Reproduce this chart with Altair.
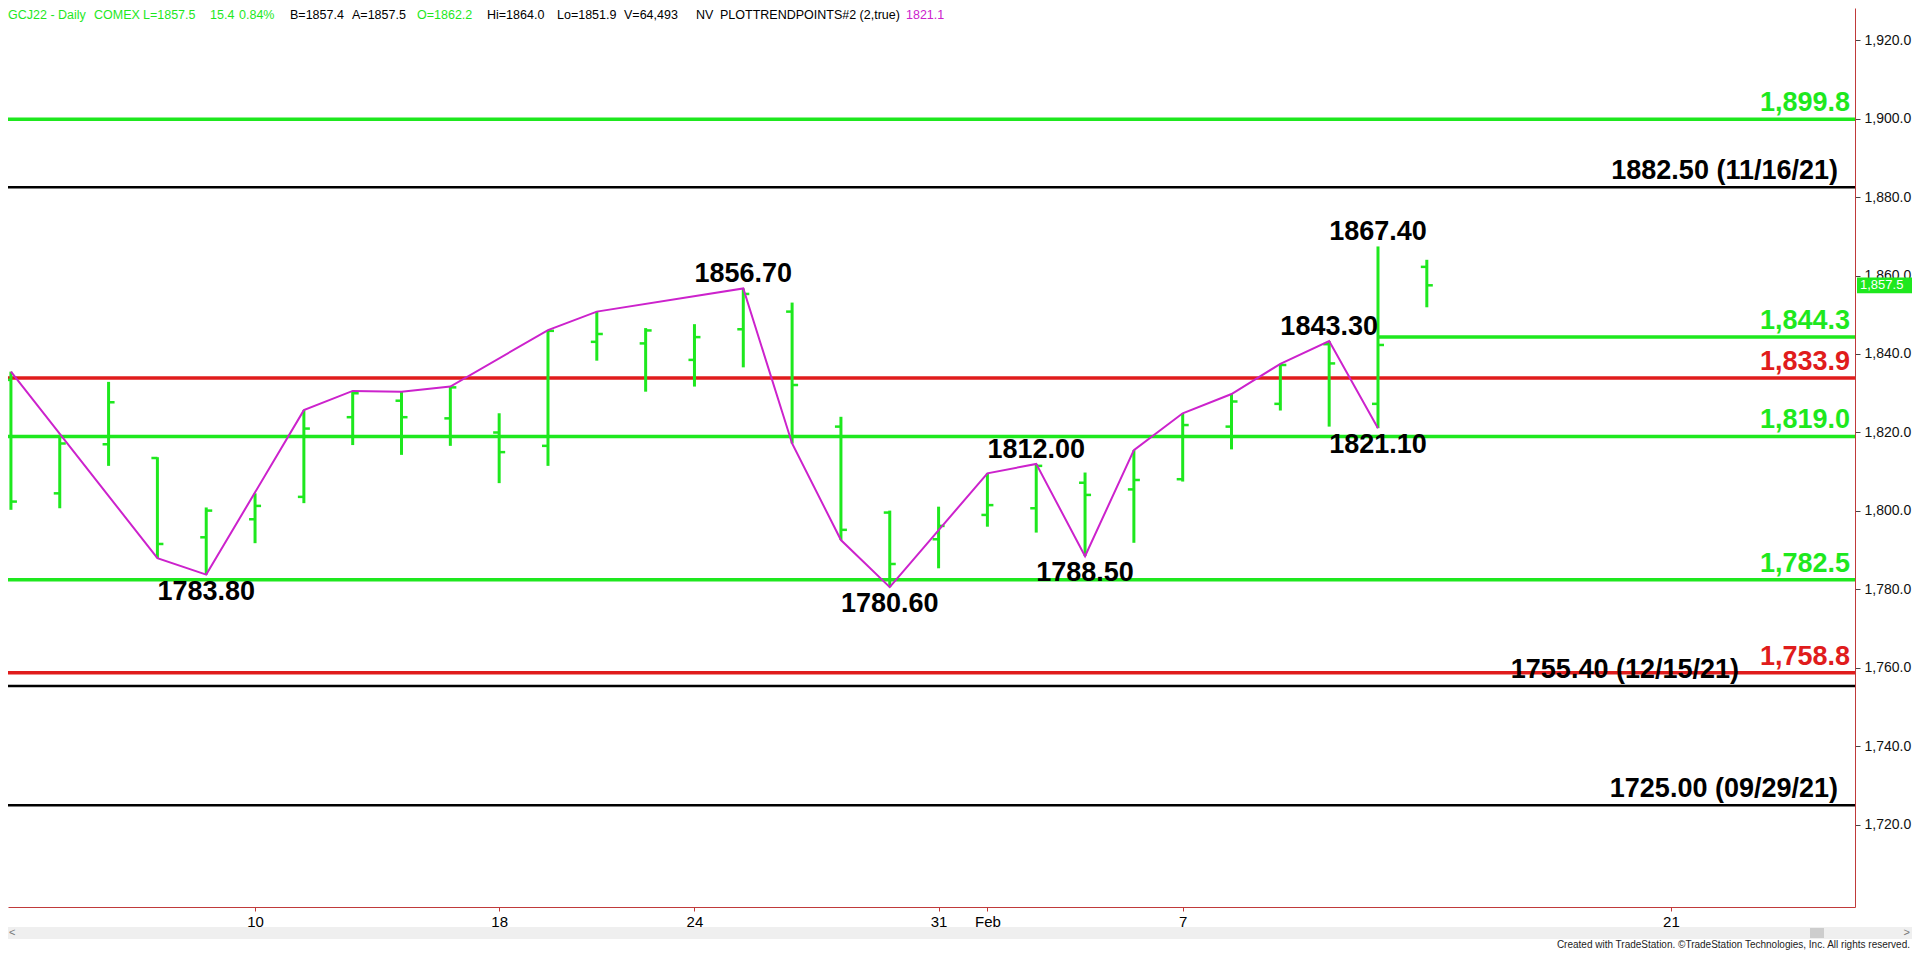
import altair as alt
import pandas as pd

# ---------------- data ----------------
dates = ["Jan 3", "Jan 4", "Jan 5", "Jan 6", "Jan 7", "Jan 10", "Jan 11", "Jan 12", "Jan 13", "Jan 14",
         "Jan 18", "Jan 19", "Jan 20", "Jan 21", "Jan 24", "Jan 25", "Jan 26", "Jan 27", "Jan 28", "Jan 31",
         "Feb 1", "Feb 2", "Feb 3", "Feb 4", "Feb 7", "Feb 8", "Feb 9", "Feb 10", "Feb 11", "Feb 14"]
opens = [1833.4, 1804.5, 1817.0, 1813.5, 1793.3, 1797.9, 1803.6, 1823.9, 1828.1, 1823.6,
         1820.0, 1816.6, 1843.1, 1842.7, 1838.5, 1846.3, 1850.8, 1821.5, 1799.6, 1792.8,
         1799.0, 1800.7, 1807.2, 1805.5, 1808.1, 1821.5, 1827.3, 1842.5, 1827.3, 1862.2]
highs = [1835.5, 1819.4, 1832.9, 1813.7, 1800.9, 1804.5, 1825.7, 1830.6, 1830.4, 1831.7,
         1824.9, 1846.1, 1850.8, 1846.6, 1847.6, 1856.7, 1853.1, 1824.0, 1800.1, 1801.1,
         1809.6, 1812.0, 1809.8, 1815.5, 1824.9, 1829.8, 1837.5, 1843.3, 1867.4, 1864.0]
lows = [1800.3, 1800.7, 1811.5, 1788.0, 1783.8, 1791.8, 1802.0, 1816.8, 1814.3, 1816.6,
        1807.1, 1811.5, 1838.3, 1830.4, 1831.7, 1836.6, 1817.2, 1792.6, 1780.6, 1785.4,
        1796.0, 1794.5, 1788.5, 1791.9, 1807.5, 1815.7, 1825.6, 1821.5, 1821.1, 1851.9]
closes = [1802.4, 1817.2, 1827.7, 1791.6, 1800.1, 1801.3, 1821.0, 1830.0, 1823.9, 1831.5,
          1815.0, 1845.9, 1845.1, 1846.0, 1844.3, 1855.3, 1832.1, 1795.2, 1786.5, 1796.2,
          1801.5, 1811.5, 1804.1, 1807.9, 1821.9, 1827.9, 1837.2, 1837.6, 1842.3, 1857.5]

trend_dates = ["Jan 3", "Jan 6", "Jan 7", "Jan 11", "Jan 12", "Jan 13", "Jan 14", "Jan 19", "Jan 20",
               "Jan 25", "Jan 26", "Jan 27", "Jan 28", "Feb 1", "Feb 2", "Feb 3", "Feb 4", "Feb 7",
               "Feb 8", "Feb 9", "Feb 10", "Feb 11"]
trend_values = [1835.5, 1788.0, 1783.8, 1825.7, 1830.6, 1830.4, 1831.7, 1846.1, 1850.8,
                1856.7, 1817.2, 1792.6, 1780.6, 1809.6, 1812.0, 1788.5, 1815.5, 1824.9,
                1829.8, 1837.5, 1843.3, 1821.1]

pivot_dates = ["Jan 7", "Jan 25", "Jan 28", "Feb 2", "Feb 3", "Feb 10", "Feb 11", "Feb 11"]
pivot_values = [1783.80, 1856.70, 1780.60, 1812.00, 1788.50, 1843.30, 1867.40, 1821.10]
pivot_kinds = ["low", "high", "low", "high", "low", "high", "high", "low"]

level_values = [1899.8, 1882.50, 1844.3, 1833.9, 1819.0, 1782.5, 1758.8, 1755.40, 1725.00]
level_labels = ["1,899.8", "1882.50 (11/16/21)", "1,844.3", "1,833.9", "1,819.0", "1,782.5",
                "1,758.8", "1755.40 (12/15/21)", "1725.00 (09/29/21)"]
level_kinds = ["green", "black", "green", "red", "green", "green", "red", "black", "black"]
level_starts = ["", "", "Feb 11", "", "", "", "", "", ""]

y_ticks = [1720, 1740, 1760, 1780, 1800, 1820, 1840, 1860, 1880, 1900, 1920]
x_tick_days = [5, 10, 14, 19, 20, 24, 34]          # trading-day index
x_tick_labels = ["10", "18", "24", "31", "Feb", "7", "21"]

header_tokens = ["GCJ22 - Daily", "COMEX", "L=1857.5", "15.4", "0.84%", "B=1857.4", "A=1857.5",
                 "O=1862.2", "Hi=1864.0", "Lo=1851.9", "V=64,493", "NV",
                 "PLOTTRENDPOINTS#2 (2,true)", "1821.1"]
header_kinds = ["green", "green", "green", "green", "green", "black", "black",
                "green", "black", "black", "black", "black", "black", "magenta"]
last_price = closes[-1]

# ---------------- style ----------------
GREEN = "#1ee81e"
RED = "#e01c1c"
BLACK = "#000000"
MAGENTA = "#cc22cc"
AXRED = "#c03a3a"
COLORS = {"green": GREEN, "red": RED, "black": BLACK, "magenta": MAGENTA}
W, H = 1847, 899
BOLD = "Liberation Sans"
NARROW = "Liberation Sans Narrow, Arial Narrow, Liberation Sans"
header_x = [0, 86, 135, 202, 231, 282, 344, 409, 479, 549, 616, 688, 712, 898]

idx = {d: k for k, d in enumerate(dates)}

bars = pd.DataFrame({"date": dates, "i": list(range(len(dates))), "open": opens,
                     "high": highs, "low": lows, "close": closes})
trend = pd.DataFrame({"i": [idx[d] for d in trend_dates], "value": trend_values})
pivots = pd.DataFrame({"i": [idx[d] for d in pivot_dates], "value": pivot_values,
                       "kind": pivot_kinds, "label": [f"{v:.2f}" for v in pivot_values]})
levels = pd.DataFrame({"value": level_values, "label": level_labels, "kind": level_kinds,
                       "color": [COLORS[k] for k in level_kinds],
                       "start": [idx[s] if s else -1 for s in level_starts]})
header = pd.DataFrame({"t": header_tokens, "color": [COLORS[k] for k in header_kinds], "px": header_x})

x_scale = alt.Scale(domain=[-0.06, 37.77], nice=False, zero=False)
y_scale = alt.Scale(domain=[1699.108, 1928.153], nice=False, zero=False)

label_expr = "".join(f"datum.value == {p} ? '{l}' : " for p, l in zip(x_tick_days, x_tick_labels)) + "''"
x_axis = alt.Axis(values=x_tick_days, labelExpr=label_expr, title=None, grid=False,
                  domainColor=AXRED, tickColor=AXRED, tickSize=4, labelFont=NARROW,
                  labelFontSize=15, labelColor="#000", labelPadding=3, labelOverlap=False,
                  labelFlush=False)
y_axis = alt.Axis(orient="right", values=y_ticks, format=",.1f", title=None, grid=False,
                  domainColor=AXRED, tickColor="#444", tickSize=5, labelFont="Liberation Sans",
                  labelFontSize=14, labelPadding=4, labelColor="#111", labelOverlap=False,
                  labelFlush=False)


def X(f):
    return alt.X(f, scale=x_scale, axis=x_axis)


def Y(f):
    return alt.Y(f, scale=y_scale, axis=y_axis)


layers = []

# level lines
level_base = alt.Chart(levels)
layers.append(level_base.transform_filter(alt.datum.kind != "black").mark_rule(strokeWidth=3.5, clip=True).encode(
    x=X("start:Q"), x2=alt.value(W), y=Y("value:Q"), color=alt.Color("color:N", scale=None)))
layers.append(level_base.transform_filter(alt.datum.kind == "black").mark_rule(strokeWidth=2.5, clip=True).encode(
    x=X("start:Q"), x2=alt.value(W), y=Y("value:Q"), color=alt.Color("color:N", scale=None)))

# level labels
lab_style = dict(font=BOLD, fontWeight="bold", fontSize=27, align="right", baseline="alphabetic", dy=-8)
layers.append(level_base.transform_filter(alt.datum.kind != "black").mark_text(**lab_style).encode(
    x=alt.value(W - 5), y=Y("value:Q"), text="label:N", color=alt.Color("color:N", scale=None)))
layers.append(level_base.transform_filter((alt.datum.kind == "black") & (alt.datum.value != 1755.4)).mark_text(**lab_style).encode(
    x=alt.value(W - 17), y=Y("value:Q"), text="label:N", color=alt.Color("color:N", scale=None)))
layers.append(level_base.transform_filter(alt.datum.value == 1755.4).mark_text(**lab_style).encode(
    x=alt.value(W - 116), y=Y("value:Q"), text="label:N", color=alt.Color("color:N", scale=None)))

# OHLC bars
bar_base = alt.Chart(bars)
layers.append(bar_base.mark_rule(color=GREEN, strokeWidth=3, clip=True).encode(
    x=X("i:Q"), y=Y("low:Q"), y2="high:Q"))
layers.append(bar_base.mark_rule(color=GREEN, strokeWidth=2.5, x2Offset=-6, clip=True).encode(
    x=X("i:Q"), x2="i:Q", y=Y("open:Q")))
layers.append(bar_base.mark_rule(color=GREEN, strokeWidth=2.5, x2Offset=6, clip=True).encode(
    x=X("i:Q"), x2="i:Q", y=Y("close:Q")))

# trend line
layers.append(alt.Chart(trend).mark_line(color=MAGENTA, strokeWidth=2, clip=True).encode(
    x=X("i:Q"), y=Y("value:Q")))

# pivot labels
piv_base = alt.Chart(pivots)
layers.append(piv_base.transform_filter(alt.datum.kind == "high").mark_text(
    font=BOLD, fontWeight="bold", fontSize=27, color=BLACK, baseline="alphabetic", dy=-6).encode(
    x=X("i:Q"), y=Y("value:Q"), text="label:N"))
layers.append(piv_base.transform_filter(alt.datum.kind == "low").mark_text(
    font=BOLD, fontWeight="bold", fontSize=27, color=BLACK, baseline="top", dy=4).encode(
    x=X("i:Q"), y=Y("value:Q"), text="label:N"))

# current price box on the axis
price = alt.Chart(pd.DataFrame({"v": [last_price]})).transform_calculate(
    lo="datum.v - 2.0", hi="datum.v + 2.0")
layers.append(price.mark_rect(color=GREEN).encode(
    x=alt.value(W + 2), x2=alt.value(W + 57), y=Y("lo:Q"), y2="hi:Q"))
layers.append(price.mark_text(color="white", fontSize=13, font="Liberation Sans", align="left", baseline="middle").encode(
    x=alt.value(W + 5), y=Y("v:Q"), text=alt.Text("v:Q", format=",.1f")))

# header line (one text per token)
layers.append(alt.Chart(header).mark_text(
    font="Liberation Sans", fontSize=12.5, align="left", baseline="top").encode(
    x=alt.X("px:Q", scale=None, axis=None), y=alt.value(1), text="t:N",
    color=alt.Color("color:N", scale=None)))

# scrollbar and credit line
deco = alt.Chart(pd.DataFrame({"t": ["Created with TradeStation. ©TradeStation Technologies, Inc. All rights reserved."]}))
layers.append(deco.mark_rect(color="#efefef").encode(
    x=alt.value(-8), x2=alt.value(W + 57), y=alt.value(919), y2=alt.value(931)))
layers.append(deco.mark_rect(color="#cdcdcd").encode(
    x=alt.value(1802), x2=alt.value(1816), y=alt.value(920), y2=alt.value(930)))
layers.append(deco.mark_text(color="#777", fontSize=11, align="left", baseline="middle").encode(
    x=alt.value(1), y=alt.value(925), text=alt.value("<")))
layers.append(deco.mark_text(color="#777", fontSize=11, align="right", baseline="middle").encode(
    x=alt.value(W + 55), y=alt.value(925), text=alt.value(">")))
layers.append(deco.mark_text(color="#222", fontSize=10, font=NARROW, align="right", baseline="alphabetic").encode(
    x=alt.value(W + 55), y=alt.value(940), text="t:N"))

chart = alt.layer(*layers).properties(
    width=W, height=H,
    autosize=alt.AutoSizeParams(type="none"),
    padding={"left": 0, "top": 0, "right": 57, "bottom": 43},
    background="white",
).configure_view(stroke=None)

chart.save("out.html", embed_options={"renderer": "svg", "actions": False})
